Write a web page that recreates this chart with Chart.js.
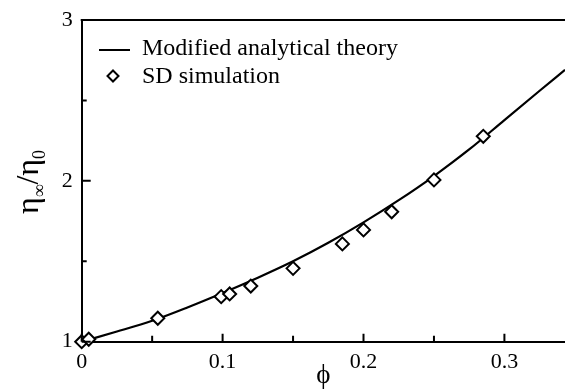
<!DOCTYPE html>
<html>
<head>
<meta charset="utf-8">
<script src="https://cdn.jsdelivr.net/npm/chart.js@4.4.1/dist/chart.umd.min.js"></script>
<style>
  html, body { margin: 0; padding: 0; background: #fff; overflow: hidden; }
  #wrap { width: 565px; height: 389px; }
</style>
</head>
<body>
<div id="wrap"><canvas id="visc" width="565" height="389"></canvas></div>
<script>
// theory curve, sampled along phi
var curvePhi = [0, 0.025, 0.05, 0.075, 0.1, 0.125, 0.15, 0.175, 0.2, 0.225, 0.25, 0.275, 0.3, 0.325, 0.343];
var curveEta = [1.000, 1.063, 1.130, 1.213, 1.303, 1.398, 1.500, 1.615, 1.742, 1.880, 2.030, 2.195, 2.378, 2.560, 2.690];
// SD simulation points
var simPhi = [0, 0.005, 0.054, 0.099, 0.105, 0.12, 0.15, 0.185, 0.2, 0.22, 0.25, 0.285];
var simEta = [1.0, 1.015, 1.146, 1.280, 1.297, 1.346, 1.456, 1.608, 1.695, 1.808, 2.006, 2.277];
// axis ticks
var xTicks = [0, 0.1, 0.2, 0.3];
var xMinor = [0.05, 0.15, 0.25];
var yTicks = [1, 2, 3];
var yMinor = [1.5, 2.5];

var serif = "'Liberation Serif', 'Times New Roman', serif";

function toPoints(xs, ys) {
    return xs.map(function (x, i) { return {x: x, y: ys[i]}; });
}

// inward tick marks, top frame line, legend and the y title
var framePlugin = {
    id: 'frame',
    afterDraw: function (chart) {
        var ctx = chart.ctx, a = chart.chartArea;
        var xs = chart.scales.x, ys = chart.scales.y;
        ctx.save();
        ctx.strokeStyle = '#000';
        ctx.lineWidth = 2;
        ctx.beginPath();
        ctx.moveTo(a.left - 1, a.top);
        ctx.lineTo(a.right, a.top);
        xTicks.forEach(function (v) {
            var px = xs.getPixelForValue(v);
            ctx.moveTo(px, a.bottom); ctx.lineTo(px, a.bottom - 8);
        });
        xMinor.forEach(function (v) {
            var px = xs.getPixelForValue(v);
            ctx.moveTo(px, a.bottom); ctx.lineTo(px, a.bottom - 6);
        });
        yTicks.forEach(function (v) {
            var py = ys.getPixelForValue(v);
            ctx.moveTo(a.left, py); ctx.lineTo(a.left + 9, py);
        });
        yMinor.forEach(function (v) {
            var py = ys.getPixelForValue(v);
            ctx.moveTo(a.left, py); ctx.lineTo(a.left + 5, py);
        });
        ctx.stroke();

        // legend
        var sets = chart.data.datasets;
        ctx.font = '24px ' + serif;
        ctx.fillStyle = '#000';
        ctx.textBaseline = 'alphabetic';
        ctx.beginPath();
        ctx.moveTo(99, 50); ctx.lineTo(130, 50);
        ctx.stroke();
        ctx.fillText(sets[0].label, 142, 55);
        var r = 5.5;
        ctx.beginPath();
        ctx.moveTo(113, 76 - r); ctx.lineTo(113 + r, 76);
        ctx.lineTo(113, 76 + r); ctx.lineTo(113 - r, 76);
        ctx.closePath();
        ctx.fillStyle = '#fff';
        ctx.fill();
        ctx.stroke();
        ctx.fillStyle = '#000';
        ctx.fillText(sets[1].label, 142, 83);

        // y axis title: eta_inf / eta_0
        ctx.translate(38, 182);
        ctx.rotate(-Math.PI / 2);
        var big = '32px ' + serif, small = '18px ' + serif;
        var parts = [['\u03b7', big, 0], ['\u221e', small, 7], ['/', big, 0], ['\u03b7', big, 0], ['0', small, 7]];
        var total = 0;
        parts.forEach(function (p) { ctx.font = p[1]; total += ctx.measureText(p[0]).width; });
        var cx = -total / 2;
        parts.forEach(function (p) {
            ctx.font = p[1];
            ctx.fillText(p[0], cx, p[2]);
            cx += ctx.measureText(p[0]).width;
        });
        ctx.restore();
    }
};

var viscChart = new Chart(document.getElementById('visc'), {
    type: 'scatter',
    data: {
        datasets: [
            {
                type: 'line',
                label: 'Modified analytical theory',
                data: toPoints(curvePhi, curveEta),
                borderColor: '#000',
                borderWidth: 2.2,
                pointRadius: 0,
                fill: false,
                cubicInterpolationMode: 'monotone',
                order: 1
            },
            {
                label: 'SD simulation',
                data: toPoints(simPhi, simEta),
                pointStyle: 'rectRot',
                pointRadius: 6.5,
                pointBorderWidth: 2,
                borderColor: '#000',
                backgroundColor: '#fff',
                clip: false,
                order: 0
            }
        ]
    },
    options: {
        responsive: false,
        animation: false,
        layout: {autoPadding: false, padding: {top: 20, right: 0, left: 0, bottom: 0}},
        plugins: {legend: {display: false}, tooltip: {enabled: false}},
        scales: {
            x: {
                type: 'linear',
                min: 0,
                max: 0.343,
                afterBuildTicks: function (s) { s.ticks = xTicks.map(function (v) { return {value: v}; }); },
                afterFit: function (s) {
                    s.height = 47.3;
                    s.paddingLeft = 0;
                    s.paddingRight = 0;
                },
                grid: {display: false, drawTicks: false},
                border: {display: true, color: '#000', width: 2},
                ticks: {
                    color: '#000',
                    padding: 7,
                    maxRotation: 0,
                    font: {family: serif, size: 22},
                    callback: function (v) { return String(v); }
                },
                title: {
                    display: true,
                    text: '\u03d5',
                    color: '#000',
                    font: {family: serif, size: 27, lineHeight: 1},
                    padding: {top: 0, bottom: 0}
                }
            },
            y: {
                type: 'linear',
                min: 1,
                max: 3,
                afterBuildTicks: function (s) { s.ticks = yTicks.map(function (v) { return {value: v}; }); },
                afterFit: function (s) {
                    s.width = 81.7;
                    s.paddingTop = 0;
                    s.paddingBottom = 0;
                },
                grid: {display: false, drawTicks: false},
                border: {display: true, color: '#000', width: 2},
                ticks: {
                    color: '#000',
                    padding: 9,
                    font: {family: serif, size: 22}
                }
            }
        }
    },
    plugins: [framePlugin]
});
</script>
</body>
</html>
